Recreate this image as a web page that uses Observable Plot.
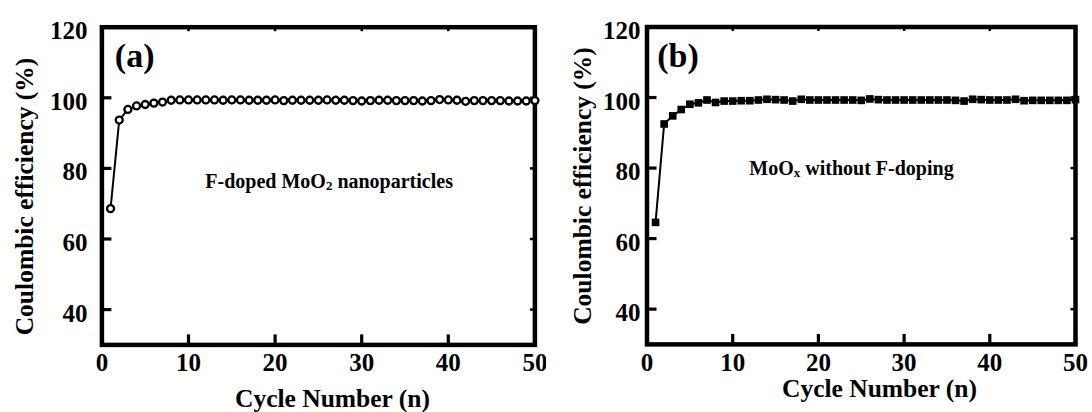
<!DOCTYPE html>
<html><head><meta charset="utf-8">
<script src="https://cdn.jsdelivr.net/npm/d3@7"></script>
<script src="https://cdn.jsdelivr.net/npm/@observablehq/plot@0.6"></script>
<style>
html,body{margin:0;padding:0;background:#fff;}
#wrap{display:flex;width:1092px;height:412px;overflow:hidden;}
#wrap svg{display:block;flex:none;}
</style></head><body><div id="wrap"></div>
<script>
// ---- data ----
const cycles = [1,2,3,4,5,6,7,8,9,10,11,12,13,14,15,16,17,18,19,20,21,22,23,24,25,26,27,28,29,30,31,32,33,34,35,36,37,38,39,40,41,42,43,44,45,46,47,48,49,50];
const efficiencyA = [68.6,93.7,96.7,97.7,98.1,98.5,98.8,99.3,99.4,99.4,99.4,99.4,99.4,99.3,99.4,99.4,99.3,99.3,99.3,99.4,99.2,99.3,99.3,99.3,99.3,99.4,99.3,99.3,99.2,99.1,99.2,99.3,99.3,99.2,99.2,99.2,99.1,99.2,99.5,99.4,99.3,99.0,99.2,99.2,99.2,99.2,99.1,99.1,99.1,99.2];
const efficiencyB = [64.6,92.5,94.8,96.6,98.1,98.5,99.3,98.6,99.0,99.0,99.1,99.1,99.3,99.5,99.4,99.3,99.0,99.5,99.3,99.3,99.3,99.3,99.3,99.3,99.2,99.6,99.4,99.3,99.3,99.3,99.3,99.3,99.3,99.3,99.3,99.2,99.0,99.5,99.4,99.3,99.3,99.3,99.5,99.1,99.2,99.2,99.2,99.2,99.2,99.4];
const xTicks = [0,10,20,30,40,50];
const yTicks = [40,60,80,100,120];
const xTitle = "Cycle Number (n)";
const yTitle = "Coulombic efficiency (%)";
const panelLabels = ["(a)", "(b)"];
const notesA = [["F-doped MoO", false], ["2", true], [" nanoparticles", false]];
const notesB = [["MoO", false], ["x", true], [" without F-doping", false]];

const FONT = "'Liberation Serif','Times New Roman',Times,serif";
const W = 546, H = 412;

function panel(cfg) {
  const data = cycles.map((c, i) => ({cycle: c, ce: cfg.values[i]}));
  const iw = W - cfg.ml - cfg.mr, ih = H - cfg.mt - cfg.mb;
  const dots = cfg.marker === "circle"
    ? Plot.dot(data, {x: "cycle", y: "ce", r: 3.5, stroke: "black", strokeWidth: 2.3, fill: "white"})
    : Plot.dot(data, {x: "cycle", y: "ce", symbol: "square", r: 4.3, fill: "black", stroke: "none"});
  const plot = Plot.plot({
    width: W, height: H,
    marginLeft: cfg.ml, marginRight: cfg.mr, marginTop: cfg.mt, marginBottom: cfg.mb,
    style: {fontFamily: FONT, fontSize: "25px", fontWeight: "bold", color: "black", background: "white"},
    x: {domain: [0, 50]},
    y: {domain: [30, 120]},
    marks: [
      Plot.line(data, {x: "cycle", y: "ce", stroke: "black", strokeWidth: 2}),
      Plot.frame({stroke: "black", strokeWidth: 4.5}),
      // inward tick stubs
      Plot.ruleX(xTicks, {x: d => d, insetTop: ih - 10, stroke: "black", strokeWidth: 3.2}),
      Plot.ruleX(xTicks, {x: d => d, insetBottom: ih - 4.5, stroke: "black", strokeWidth: 2.5}),
      Plot.ruleY(yTicks, {y: d => d, insetRight: iw - 10, stroke: "black", strokeWidth: 3.2}),
      Plot.ruleY(yTicks, {y: d => d, insetLeft: iw - 4.5, stroke: "black", strokeWidth: 2.5}),
      Plot.axisX(xTicks, {anchor: "bottom", tickSize: 0, tickPadding: 8.5, label: null, fontSize: 25}),
      Plot.axisY(yTicks, {anchor: "left", tickSize: 0, tickPadding: cfg.yPad, dy: 4, label: null, fontSize: 25}),
      dots
    ]
  });
  const svg = d3.select(plot);
  const sx = plot.scale("x"), sy = plot.scale("y");
  // panel label
  svg.append("text")
    .attr("x", sx.apply(cfg.labelAt[0])).attr("y", sy.apply(cfg.labelAt[1]))
    .attr("text-anchor", "start")
    .attr("font-family", FONT).attr("font-weight", "bold").attr("font-size", 34)
    .attr("fill", "black").text(cfg.label);
  // annotation with subscript
  const note = svg.append("text")
    .attr("x", sx.apply(cfg.noteAt[0])).attr("y", sy.apply(cfg.noteAt[1]))
    .attr("text-anchor", "start")
    .attr("font-family", FONT).attr("font-weight", "bold").attr("font-size", 20)
    .attr("fill", "black");
  cfg.note.forEach(([t, sub], i) => {
    const ts = note.append("tspan").text(t);
    const prevSub = i > 0 && cfg.note[i - 1][1];
    if (sub) ts.attr("font-size", 13).attr("dy", 2);
    else if (prevSub) ts.attr("dy", -2);
  });
  // axis titles
  svg.append("text")
    .attr("x", cfg.xTitleAt[0]).attr("y", cfg.xTitleAt[1])
    .attr("text-anchor", "middle")
    .attr("font-family", FONT).attr("font-weight", "bold").attr("font-size", 25.5)
    .attr("fill", "black").text(xTitle);
  svg.append("text")
    .attr("transform", `translate(${cfg.yTitleAt[0]},${cfg.yTitleAt[1]}) rotate(-90)`)
    .attr("text-anchor", "middle")
    .attr("font-family", FONT).attr("font-weight", "bold").attr("font-size", 25.5)
    .attr("fill", "black").text(yTitle);
  return plot;
}

const wrap = document.getElementById("wrap");
wrap.appendChild(panel({
  values: efficiencyA, marker: "circle",
  ml: 101.4, mr: 11.6, mt: 26.7, mb: 67.6, yPad: 14.4,
  label: panelLabels[0], labelAt: [1.55, 108.6],
  note: notesA, noteAt: [12.0, 74.3],
  xTitleAt: [332.5, 407], yTitleAt: [33.4, 196.5]
}));
wrap.appendChild(panel({
  values: efficiencyB, marker: "square",
  ml: 100.5, mr: 17, mt: 26.5, mb: 68.1, yPad: 6.5,
  label: panelLabels[1], labelAt: [1.25, 108.5],
  note: notesB, noteAt: [12.0, 77.9],
  xTitleAt: [333.5, 397], yTitleAt: [44.5, 186]
}));
</script>
</body></html>
